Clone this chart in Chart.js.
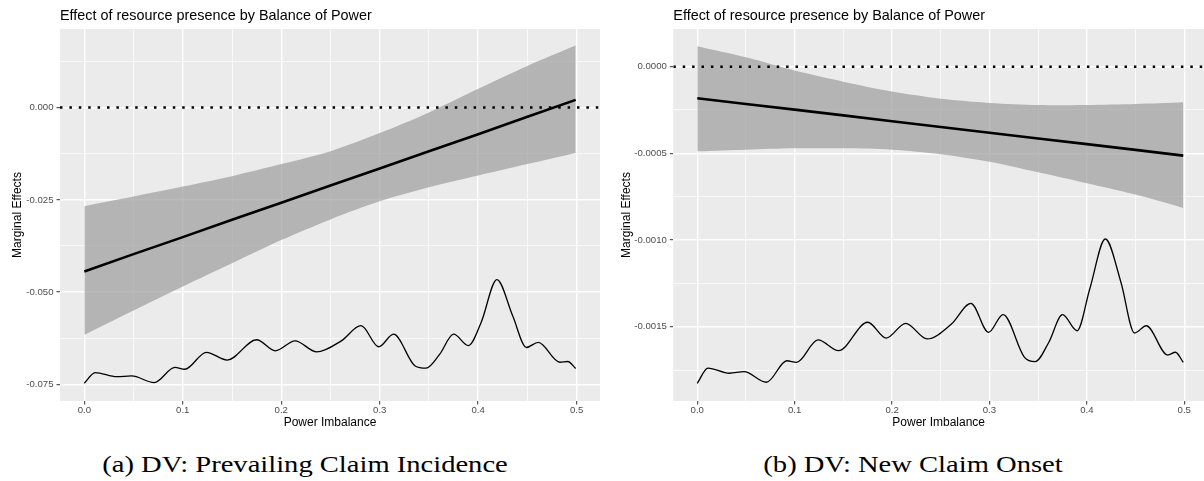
<!DOCTYPE html>
<html>
<head>
<meta charset="utf-8">
<script src="https://cdn.jsdelivr.net/npm/chart.js@4"></script>
<style>
  body { margin: 0; background: #fff; width: 1204px; height: 481px; position: relative; overflow: hidden; }
  .panel { position: absolute; top: 0; width: 602px; height: 440px; }
  .cap { position: absolute; top: 452px; width: 602px; text-align: center; white-space: nowrap;
         font-family: "Liberation Serif", "Times New Roman", serif; font-size: 24px; line-height: 24px; color: #000;
         transform: scaleX(1.19); transform-origin: 50% 50%; }
</style>
</head>
<body>
<div class="panel" style="left:0"><canvas id="chartA" width="602" height="440"></canvas></div>
<div class="panel" style="left:602px"><canvas id="chartB" width="602" height="440"></canvas></div>
<div class="cap" style="left:4px">(a) DV: Prevailing Claim Incidence</div>
<div class="cap" style="left:612px">(b) DV: New Claim Onset</div>
<script>
// texts
var plotTitle = 'Effect of resource presence by Balance of Power';
var xTitle = 'Power Imbalance';
var yTitle = 'Marginal Effects';

// x ticks, shared by both panels
var xMajor = [0, 0.1, 0.2, 0.3, 0.4, 0.5];
var xMinor = [0.05, 0.15, 0.25, 0.35, 0.45];

// marginal effect line and its band
var effectX = [0, 0.05, 0.1, 0.15, 0.2, 0.25, 0.3, 0.35, 0.4, 0.45, 0.499];

// rescaled density of power imbalance
var densityX = [0, 0.011, 0.033, 0.048, 0.071, 0.092, 0.102, 0.124, 0.145, 0.175,
                0.194, 0.214, 0.236, 0.261, 0.281, 0.299, 0.314, 0.336, 0.347, 0.361,
                0.375, 0.390, 0.403, 0.419, 0.435, 0.449, 0.461, 0.483, 0.491, 0.499];

// (a) DV: Prevailing Claim Incidence
var aEffect = [-0.0444, -0.0397, -0.0351, -0.0304, -0.0258, -0.0211, -0.0165, -0.0118, -0.0072, -0.0025, 0.0021];
var aUpper = [-0.0267, -0.0241, -0.0214, -0.0186, -0.0153, -0.0118, -0.0069, -0.0013, 0.0051, 0.0113, 0.0168];
var aLower = [-0.0616, -0.0550, -0.0485, -0.0422, -0.0359, -0.0303, -0.0254, -0.0216, -0.0184, -0.0153, -0.0123];
var aDensity = [-0.0747, -0.0718, -0.0729, -0.0727, -0.0745, -0.0704, -0.0709, -0.0663, -0.0684, -0.0629,
                -0.0659, -0.0632, -0.0662, -0.0632, -0.0591, -0.0648, -0.0614, -0.0700, -0.0706, -0.0668,
                -0.0614, -0.0645, -0.0582, -0.0466, -0.0564, -0.0650, -0.0636, -0.0690, -0.0688, -0.0707];
var aYMajor = [-0.075, -0.05, -0.025, 0];
var aYMinor = [-0.0625, -0.0375, -0.0125, 0.0125];

// (b) DV: New Claim Onset
var bEffect = [-0.000182, -0.000215, -0.000248, -0.000281, -0.000315, -0.000348, -0.000381, -0.000414, -0.000447, -0.000480, -0.000513];
var bUpper = [0.000118, 0.000054, -0.000023, -0.000087, -0.000144, -0.000185, -0.000209, -0.000221, -0.000221, -0.000215, -0.000205];
var bLower = [-0.000488, -0.000479, -0.000471, -0.000471, -0.000479, -0.000505, -0.000548, -0.000609, -0.000672, -0.000738, -0.000815];
var bDensity = [-0.001826, -0.001738, -0.001768, -0.001759, -0.001820, -0.001696, -0.001705, -0.001576, -0.001638, -0.001474,
                -0.001565, -0.001480, -0.001570, -0.001484, -0.001365, -0.001532, -0.001430, -0.001676, -0.001701, -0.001589,
                -0.001430, -0.001523, -0.001282, -0.000994, -0.001243, -0.001536, -0.001494, -0.001663, -0.001647, -0.001705];
var bYMajor = [-0.0015, -0.001, -0.0005, 0];
var bYMinor = [-0.00175, -0.00125, -0.00075, -0.00025];

var sans = '"Liberation Sans", Arial, sans-serif';

function pts(xs, ys) {
    return xs.map(function (x, i) { return { x: x, y: ys[i] }; });
}

// grey ggplot panel + title aligned with the panel
var ggPanel = {
    id: 'ggPanel',
    beforeDraw: function (chart) {
        var a = chart.chartArea, ctx = chart.ctx;
        ctx.save();
        ctx.fillStyle = '#EBEBEB';
        ctx.fillRect(a.left, a.top, a.right - a.left, a.bottom - a.top);
        ctx.restore();
    },
    afterDraw: function (chart) {
        var ctx = chart.ctx;
        ctx.save();
        ctx.font = '14.4px ' + sans;
        ctx.fillStyle = '#000';
        ctx.textBaseline = 'alphabetic';
        ctx.textAlign = 'left';
        ctx.fillText(plotTitle, chart.chartArea.left, 20);
        ctx.restore();
    }
};

function makeChart(id, p) {
    var ticksFrom = function (major, minor) {
        return major.concat(minor).sort(function (a, b) { return a - b; })
            .map(function (v) { return { value: v }; });
    };
    var gridFor = function (major) {
        return {
            color: '#FFFFFF',
            lineWidth: function (c) { return c.tick && major.includes(c.tick.value) ? 1.4 : 0.7; },
            tickColor: function (c) { return c.tick && major.includes(c.tick.value) ? '#333333' : 'rgba(0,0,0,0)'; },
            tickLength: 3.5,
            tickWidth: 1
        };
    };
    return new Chart(document.getElementById(id), {
        type: 'line',
        data: {
            datasets: [
                { data: [{ x: p.xRange[0], y: 0 }, { x: p.xRange[1], y: 0 }],
                  borderColor: '#000', borderWidth: 2.5, borderDash: [2.5, 6.9], pointRadius: 0, fill: false },
                { data: pts(effectX, p.effect), borderColor: '#000', borderWidth: 2.6, pointRadius: 0, fill: false },
                { data: pts(densityX, p.density), borderColor: '#000', borderWidth: 1.3, pointRadius: 0,
                  cubicInterpolationMode: 'monotone', fill: false },
                { data: pts(effectX, p.upper), borderColor: 'rgba(0,0,0,0)', borderWidth: 0, pointRadius: 0,
                  tension: 0.3, backgroundColor: 'rgba(153,153,153,0.68)', fill: '+1' },
                { data: pts(effectX, p.lower), borderColor: 'rgba(0,0,0,0)', borderWidth: 0, pointRadius: 0,
                  tension: 0.3, fill: false }
            ]
        },
        options: {
            responsive: false,
            animation: false,
            events: [],
            layout: { padding: { top: 29, right: p.padRight, left: 0, bottom: 9 } },
            plugins: { legend: { display: false }, tooltip: { enabled: false } },
            scales: {
                x: {
                    type: 'linear',
                    min: p.xRange[0],
                    max: p.xRange[1],
                    afterBuildTicks: function (ax) { ax.ticks = ticksFrom(xMajor, xMinor); },
                    afterFit: function (ax) { ax.height = 30; },
                    border: { display: false },
                    grid: gridFor(xMajor),
                    ticks: {
                        autoSkip: false, maxRotation: 0, padding: 0, color: '#4D4D4D',
                        font: { family: sans, size: 9.6 },
                        callback: function (v) { return xMajor.includes(v) ? v.toFixed(1) : ''; }
                    },
                    title: { display: true, text: xTitle, color: '#000', font: { family: sans, size: 12 },
                             padding: { top: 0, bottom: 1 } }
                },
                y: {
                    type: 'linear',
                    min: p.yRange[0],
                    max: p.yRange[1],
                    afterBuildTicks: function (ax) { ax.ticks = ticksFrom(p.yMajor, p.yMinor); },
                    afterFit: function (ax) { ax.width = p.yWidth; },
                    border: { display: false },
                    grid: gridFor(p.yMajor),
                    ticks: {
                        autoSkip: false, padding: 3, color: '#4D4D4D',
                        font: { family: sans, size: 9.6 },
                        callback: function (v) { return p.yMajor.includes(v) ? v.toFixed(p.digits) : ''; }
                    },
                    title: { display: true, text: yTitle, color: '#000', font: { family: sans, size: 12 },
                             padding: { top: p.yTitlePad, bottom: 0 } }
                }
            }
        },
        plugins: [ggPanel]
    });
}

makeChart('chartA', {
    effect: aEffect, upper: aUpper, lower: aLower, density: aDensity,
    yMajor: aYMajor, yMinor: aYMinor, digits: 3,
    xRange: [-0.0247, 0.5237], yRange: [-0.0795, 0.0213],
    yWidth: 60, yTitlePad: 10, padRight: 2
});

makeChart('chartB', {
    effect: bEffect, upper: bUpper, lower: bLower, density: bDensity,
    yMajor: bYMajor, yMinor: bYMinor, digits: 4,
    xRange: [-0.0246, 0.5203], yRange: [-0.001928, 0.000217],
    yWidth: 71.3, yTitlePad: 17.8, padRight: 0
});
</script>
</body>
</html>
